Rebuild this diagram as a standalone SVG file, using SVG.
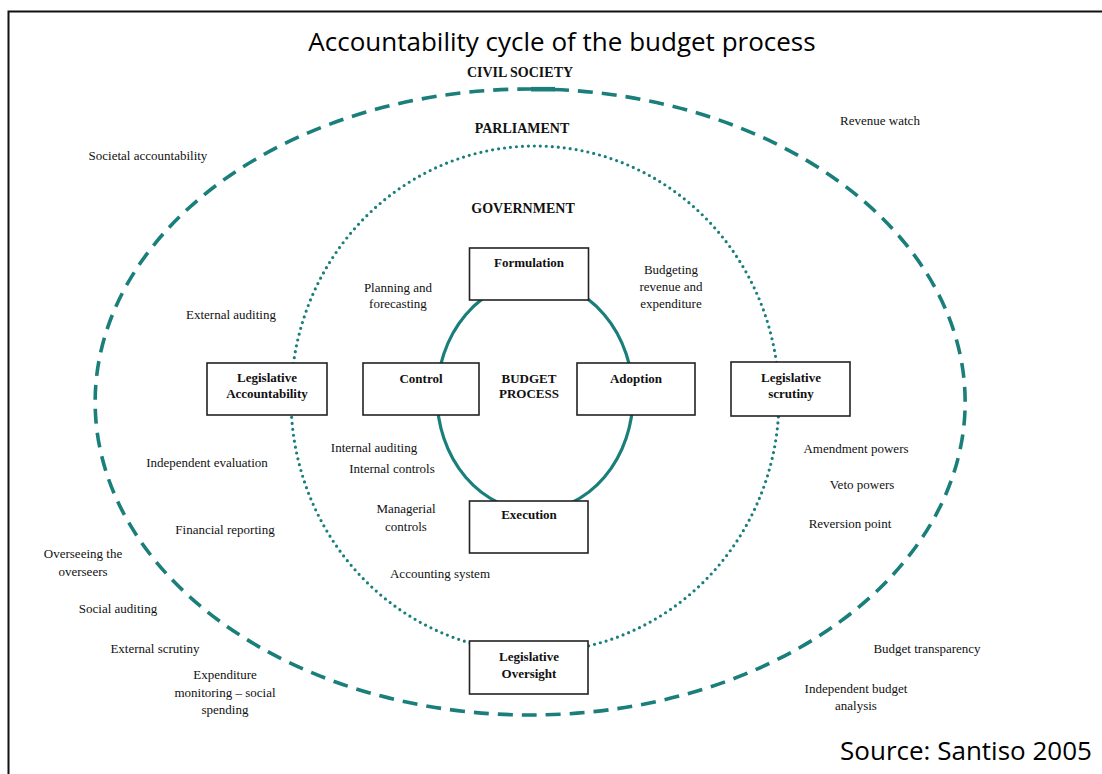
<svg xmlns="http://www.w3.org/2000/svg" width="1102" height="774" viewBox="0 0 1102 774">
<style>
.t{font-family:"Liberation Serif","Times New Roman",serif;font-size:13px;fill:#111;text-anchor:middle}
.b{font-weight:bold}
.layer{font-family:"Liberation Serif","Times New Roman",serif;font-size:14px;font-weight:bold;fill:#111;text-anchor:middle}
.box{fill:#fff;stroke:#222;stroke-width:1.6}
.dash{fill:none;stroke:#1a7f7a;stroke-width:3.6;stroke-dasharray:15 9}
.dot{fill:none;stroke:#1a7f7a;stroke-width:3.2;stroke-dasharray:0 6;stroke-linecap:round}
.solid{fill:none;stroke:#1a7f7a;stroke-width:3.2}
.big{font-family:"Open Sans","Liberation Sans",sans-serif;font-size:26px;fill:#000;text-anchor:middle}
</style>
<rect x="0" y="0" width="1102" height="774" fill="#fff"/>
<path d="M8.5 774 V11.5 H1102" fill="none" stroke="#111" stroke-width="2"/>
<text class="big" x="562" y="51">Accountability cycle of the budget process</text>
<text class="big" x="966" y="760">Source: Santiso 2005</text>

<g id="connectors">
  <path class="dash" d="M530 89 A435 313 0 1 1 530 715.0 A435 313 0 0 1 530 89"/>
  <path d="M531 89.2 L555 89.2" stroke="#1a7f7a" stroke-width="4.6" fill="none"/>
  <ellipse class="dot" cx="535" cy="399" rx="244" ry="253"/>
  <ellipse class="solid" cx="535" cy="396" rx="98" ry="115"/>
</g>

<g id="layer-labels">
  <text class="layer" x="520" y="77">CIVIL SOCIETY</text>
  <text class="layer" x="522" y="133">PARLIAMENT</text>
  <text class="layer" x="523" y="213">GOVERNMENT</text>
  <text class="t b" x="529" y="383">BUDGET</text>
  <text class="t b" x="529" y="398">PROCESS</text>
</g>

<g id="node-formulation">
  <rect class="box" x="469.5" y="248" width="119" height="52"/>
  <text class="t b" x="529" y="267">Formulation</text>
</g>
<g id="node-control">
  <rect class="box" x="363" y="363" width="116" height="52"/>
  <text class="t b" x="421" y="383">Control</text>
</g>
<g id="node-adoption">
  <rect class="box" x="577" y="363" width="118" height="52"/>
  <text class="t b" x="636" y="383">Adoption</text>
</g>
<g id="node-execution">
  <rect class="box" x="469.5" y="501" width="118.5" height="52"/>
  <text class="t b" x="529" y="519">Execution</text>
</g>
<g id="node-legislative-accountability">
  <rect class="box" x="207" y="363" width="120" height="52"/>
  <text class="t b" x="267" y="382">Legislative</text>
  <text class="t b" x="267" y="398">Accountability</text>
</g>
<g id="node-legislative-scrutiny">
  <rect class="box" x="731" y="362" width="119" height="54"/>
  <text class="t b" x="791" y="382">Legislative</text>
  <text class="t b" x="791" y="398">scrutiny</text>
</g>
<g id="node-legislative-oversight">
  <rect class="box" x="469.5" y="641" width="118.5" height="53"/>
  <text class="t b" x="529" y="661">Legislative</text>
  <text class="t b" x="529" y="678">Oversight</text>
</g>

<g id="labels">
  <text class="t" x="398" y="292">Planning and</text>
  <text class="t" x="398" y="308">forecasting</text>
  <text class="t" x="671" y="274">Budgeting</text>
  <text class="t" x="671" y="291">revenue and</text>
  <text class="t" x="671" y="308">expenditure</text>
  <text class="t" x="231" y="319">External auditing</text>
  <text class="t" x="148" y="160">Societal accountability</text>
  <text class="t" x="880" y="125">Revenue watch</text>
  <text class="t" x="207" y="467">Independent evaluation</text>
  <text class="t" x="225" y="534">Financial reporting</text>
  <text class="t" x="374" y="452">Internal auditing</text>
  <text class="t" x="392" y="473">Internal controls</text>
  <text class="t" x="406" y="513">Managerial</text>
  <text class="t" x="406" y="531">controls</text>
  <text class="t" x="440" y="578">Accounting system</text>
  <text class="t" x="856" y="453">Amendment powers</text>
  <text class="t" x="862" y="489">Veto powers</text>
  <text class="t" x="850" y="528">Reversion point</text>
  <text class="t" x="83" y="558">Overseeing the</text>
  <text class="t" x="83" y="576">overseers</text>
  <text class="t" x="118" y="613">Social auditing</text>
  <text class="t" x="155" y="653">External scrutiny</text>
  <text class="t" x="225" y="679">Expenditure</text>
  <text class="t" x="225" y="697">monitoring – social</text>
  <text class="t" x="225" y="714">spending</text>
  <text class="t" x="927" y="653">Budget transparency</text>
  <text class="t" x="856" y="693">Independent budget</text>
  <text class="t" x="856" y="710">analysis</text>
</g>
</svg>
